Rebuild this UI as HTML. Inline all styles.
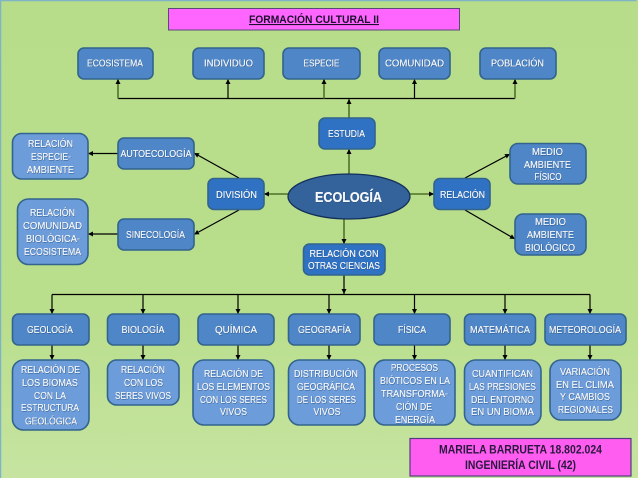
<!DOCTYPE html>
<html><head><meta charset="utf-8">
<style>
html,body{margin:0;padding:0;width:638px;height:479px;overflow:hidden;background:#fff}
svg{display:block;font-family:"Liberation Sans",sans-serif}
.b{fill:#4f86c8;stroke:#32648c;stroke-width:1.6}
.l{fill:#6c9cda;stroke:#32648c;stroke-width:1.6}
.d{fill:#2f72c4;stroke:#32648c;stroke-width:1.6}
.w text{fill:#f6f9fd;font-size:10.5px;text-anchor:middle;stroke:#f6f9fd;stroke-width:.12}
.k{stroke:#000;stroke-width:1.2;fill:none}
.o{stroke:#5c7f36;stroke-width:1.8;fill:none}
</style></head><body>
<svg width="638" height="479" viewBox="0 0 638 479" xmlns="http://www.w3.org/2000/svg">
<defs>
<linearGradient id="bg" x1="0" y1="0" x2="0" y2="1"><stop offset="0" stop-color="#b7dd8b"/><stop offset=".65" stop-color="#b9de8c"/><stop offset="1" stop-color="#c6e4a0"/></linearGradient>
<marker id="a" markerUnits="userSpaceOnUse" markerWidth="6" markerHeight="6" refX="5" refY="2.5" orient="auto"><path d="M0 0L5 2.5L0 5Z" fill="#000"/></marker>
<filter id="s" x="-10%" y="-10%" width="120%" height="120%"><feDropShadow dx=".5" dy=".5" stdDeviation=".35" flood-color="#23466f" flood-opacity=".8"/></filter>
</defs>
<rect width="638" height="478" fill="url(#bg)"/>
<path d="M.5 478V.5H636.5" fill="none" stroke="#7fb3c6" stroke-width="1.5"/>
<rect x="168.500" y="8.500" width="291" height="21.500" fill="#ff66ff" stroke="#5a4a78"/>

<!-- connectors -->
<g class="k">
<path d="M118 98.500H515M52 294.500H590"/>
<path d="M228 98.500V79" marker-end="url(#a)"/>
<path d="M414.500 98.500V79" marker-end="url(#a)"/>
<path d="M239 178L194 153" marker-end="url(#a)"/>
<path d="M239 210L194 234.500" marker-end="url(#a)"/>
<path d="M118 153.500H88" marker-end="url(#a)"/>
<path d="M118 234H88" marker-end="url(#a)"/>
<path d="M465 178L510 154" marker-end="url(#a)"/>
<path d="M465 210L515 239" marker-end="url(#a)"/>
<path d="M344 275V294" marker-end="url(#a)"/>
<path d="M52 294.500V314" marker-end="url(#a)"/><path d="M143 294.500V314" marker-end="url(#a)"/><path d="M238 294.500V314" marker-end="url(#a)"/><path d="M414.500 294.500V314" marker-end="url(#a)"/><path d="M590 294.500V314" marker-end="url(#a)"/><path d="M505 294.500V314" marker-end="url(#a)"/><path d="M329 294.500V314" marker-end="url(#a)"/>
<path d="M52 345V360" marker-end="url(#a)"/><path d="M143 345V360" marker-end="url(#a)"/><path d="M238 345V360" marker-end="url(#a)"/><path d="M329 345V360" marker-end="url(#a)"/><path d="M414.500 345V360" marker-end="url(#a)"/><path d="M505 345V360" marker-end="url(#a)"/><path d="M590 345V360" marker-end="url(#a)"/>
</g>
<g class="o">
<path d="M118 98.500V79" marker-end="url(#a)"/>
<path d="M324 98.500V79" marker-end="url(#a)"/>
<path d="M515 98.500V79" marker-end="url(#a)"/>
<path d="M349 118V99" marker-end="url(#a)"/>
<path d="M349 174V149" marker-end="url(#a)"/>
<path d="M288 194H264" marker-end="url(#a)"/>
<path d="M410 194H434" marker-end="url(#a)"/>
<path d="M344 219V244" marker-end="url(#a)"/>
</g>

<!-- boxes -->
<rect class="b" x="78" y="48" width="75" height="31" rx="6"/>
<rect class="b" x="193" y="48" width="71" height="31" rx="6"/>
<rect class="b" x="283" y="48" width="77" height="31" rx="6"/>
<rect class="b" x="379" y="48" width="71" height="31" rx="6"/>
<rect class="b" x="480" y="48" width="76" height="31" rx="6"/>
<rect class="d" x="319" y="118" width="56" height="31" rx="6"/>
<rect class="b" x="118" y="138" width="76" height="31" rx="6"/>
<rect class="b" x="118" y="219" width="76" height="31" rx="6"/>
<rect class="d" x="208" y="178.500" width="56" height="31" rx="6"/>
<rect class="d" x="434" y="178.500" width="56" height="31" rx="6"/>
<rect class="l" x="12.500" y="133.500" width="75.500" height="45.500" rx="9"/>
<rect class="l" x="17.500" y="199" width="70.500" height="65.500" rx="11"/>
<rect class="b" x="510" y="143.500" width="76" height="40.500" rx="8"/>
<rect class="b" x="515" y="214" width="71" height="41" rx="8"/>
<rect class="d" x="303.500" y="244" width="81.500" height="31" rx="6"/>
<ellipse cx="349" cy="196.500" rx="61" ry="22.500" fill="#34629b" stroke="#14305a" stroke-width="1.3"/>

<rect class="b" x="12.500" y="314" width="76.500" height="31" rx="6"/>
<rect class="b" x="107.500" y="314" width="71.500" height="31" rx="6"/>
<rect class="b" x="198" y="314" width="76" height="31" rx="6"/>
<rect class="b" x="288.500" y="314" width="71.500" height="31" rx="6"/>
<rect class="b" x="374" y="314" width="76" height="31" rx="6"/>
<rect class="b" x="464.500" y="314" width="71" height="31" rx="6"/>
<rect class="b" x="545" y="314" width="81" height="31" rx="6"/>

<rect class="l" x="12.500" y="360" width="76.500" height="70" rx="11"/>
<rect class="l" x="107.500" y="360" width="71.500" height="45" rx="9"/>
<rect class="l" x="193" y="360" width="81" height="65" rx="11"/>
<rect class="l" x="288.500" y="360" width="76.500" height="65" rx="11"/>
<rect class="l" x="374" y="360" width="81" height="65" rx="11"/>
<rect class="l" x="464.500" y="360" width="76.500" height="65" rx="11"/>
<rect class="l" x="550" y="360" width="71" height="60" rx="11"/>
<rect x="410" y="438.500" width="221" height="37.500" fill="#ff5cf0" stroke="#4f3f7f" stroke-width="1.2"/>

<!-- labels -->
<g class="w" filter="url(#s)">
<text x="115" y="66.500" textLength="56" lengthAdjust="spacingAndGlyphs">ECOSISTEMA</text>
<text x="228.500" y="66.500" textLength="49" lengthAdjust="spacingAndGlyphs">INDIVIDUO</text>
<text x="321.500" y="66.500" textLength="36" lengthAdjust="spacingAndGlyphs">ESPECIE</text>
<text x="414.500" y="66.500" textLength="59" lengthAdjust="spacingAndGlyphs">COMUNIDAD</text>
<text x="517.500" y="66.500" textLength="53" lengthAdjust="spacingAndGlyphs">POBLACIÓN</text>
<text x="346.500" y="137" textLength="37" lengthAdjust="spacingAndGlyphs">ESTUDIA</text>
<text x="156" y="157" textLength="71" lengthAdjust="spacingAndGlyphs">AUTOECOLOGÍA</text>
<text x="155.500" y="238" textLength="59" lengthAdjust="spacingAndGlyphs">SINECOLOGÍA</text>
<text x="236.500" y="198" textLength="41" lengthAdjust="spacingAndGlyphs">DIVISIÓN</text>
<text x="462.500" y="198" textLength="45" lengthAdjust="spacingAndGlyphs">RELACIÓN</text>

<text x="50.500" y="147" textLength="45" lengthAdjust="spacingAndGlyphs">RELACIÓN</text>
<text x="51" y="160" textLength="40" lengthAdjust="spacingAndGlyphs">ESPECIE-</text>
<text x="50.500" y="173" textLength="47" lengthAdjust="spacingAndGlyphs">AMBIENTE</text>

<text x="52.500" y="216" textLength="45" lengthAdjust="spacingAndGlyphs">RELACIÓN</text>
<text x="52.500" y="229" textLength="59" lengthAdjust="spacingAndGlyphs">COMUNIDAD</text>
<text x="53" y="242" textLength="54" lengthAdjust="spacingAndGlyphs">BIOLÓGICA-</text>
<text x="52.500" y="255" textLength="57" lengthAdjust="spacingAndGlyphs">ECOSISTEMA</text>

<text x="348.500" y="202" textLength="67" lengthAdjust="spacingAndGlyphs" style="font-size:15px;font-weight:bold">ECOLOGÍA</text>

<text x="547.500" y="155" textLength="31" lengthAdjust="spacingAndGlyphs">MEDIO</text>
<text x="547.500" y="168" textLength="47" lengthAdjust="spacingAndGlyphs">AMBIENTE</text>
<text x="548" y="180" textLength="27" lengthAdjust="spacingAndGlyphs">FÍSICO</text>
<text x="550.500" y="225" textLength="31" lengthAdjust="spacingAndGlyphs">MEDIO</text>
<text x="550.500" y="238" textLength="47" lengthAdjust="spacingAndGlyphs">AMBIENTE</text>
<text x="550" y="251" textLength="50" lengthAdjust="spacingAndGlyphs">BIOLÓGICO</text>

<text x="344" y="257" textLength="69" lengthAdjust="spacingAndGlyphs">RELACIÓN CON</text>
<text x="344" y="269" textLength="72" lengthAdjust="spacingAndGlyphs">OTRAS CIENCIAS</text>

<text x="50" y="333" textLength="46" lengthAdjust="spacingAndGlyphs">GEOLOGÍA</text>
<text x="143" y="333" textLength="43" lengthAdjust="spacingAndGlyphs">BIOLOGÍA</text>
<text x="236" y="333" textLength="42" lengthAdjust="spacingAndGlyphs">QUÍMICA</text>
<text x="324.500" y="333" textLength="53" lengthAdjust="spacingAndGlyphs">GEOGRAFÍA</text>
<text x="412" y="333" textLength="28" lengthAdjust="spacingAndGlyphs">FÍSICA</text>
<text x="500" y="333" textLength="60" lengthAdjust="spacingAndGlyphs">MATEMÁTICA</text>
<text x="585" y="333" textLength="72" lengthAdjust="spacingAndGlyphs">METEOROLOGÍA</text>

<text x="50.500" y="373" textLength="59" lengthAdjust="spacingAndGlyphs">RELACIÓN DE</text>
<text x="50" y="386" textLength="56" lengthAdjust="spacingAndGlyphs">LOS BIOMAS</text>
<text x="50" y="399" textLength="32" lengthAdjust="spacingAndGlyphs">CON LA</text>
<text x="50" y="411" textLength="58" lengthAdjust="spacingAndGlyphs">ESTRUCTURA</text>
<text x="51" y="424.500" textLength="52" lengthAdjust="spacingAndGlyphs">GEOLÓGICA</text>

<text x="143" y="373" textLength="44" lengthAdjust="spacingAndGlyphs">RELACIÓN</text>
<text x="143.500" y="386" textLength="39" lengthAdjust="spacingAndGlyphs">CON LOS</text>
<text x="143" y="399" textLength="56" lengthAdjust="spacingAndGlyphs">SERES VIVOS</text>

<text x="233.500" y="377" textLength="59" lengthAdjust="spacingAndGlyphs">RELACIÓN DE</text>
<text x="233.500" y="390" textLength="73" lengthAdjust="spacingAndGlyphs">LOS ELEMENTOS</text>
<text x="233.500" y="403" textLength="67" lengthAdjust="spacingAndGlyphs">CON LOS SERES</text>
<text x="233.500" y="415" textLength="27" lengthAdjust="spacingAndGlyphs">VIVOS</text>

<text x="326" y="377" textLength="64" lengthAdjust="spacingAndGlyphs">DISTRIBUCIÓN</text>
<text x="326" y="390" textLength="58" lengthAdjust="spacingAndGlyphs">GEOGRÁFICA</text>
<text x="326.500" y="403" textLength="59" lengthAdjust="spacingAndGlyphs">DE LOS SERES</text>
<text x="327" y="415" textLength="27" lengthAdjust="spacingAndGlyphs">VIVOS</text>

<text x="414.500" y="371" textLength="47" lengthAdjust="spacingAndGlyphs">PROCESOS</text>
<text x="415" y="384" textLength="70" lengthAdjust="spacingAndGlyphs">BIÓTICOS EN LA</text>
<text x="414.500" y="397" textLength="67" lengthAdjust="spacingAndGlyphs">TRANSFORMA-</text>
<text x="414" y="410" textLength="36" lengthAdjust="spacingAndGlyphs">CIÓN DE</text>
<text x="415" y="423" textLength="40" lengthAdjust="spacingAndGlyphs">ENERGÍA</text>

<text x="502.500" y="377" textLength="61" lengthAdjust="spacingAndGlyphs">CUANTIFICAN</text>
<text x="502.500" y="390" textLength="67" lengthAdjust="spacingAndGlyphs">LAS PRESIONES</text>
<text x="502.500" y="403" textLength="63" lengthAdjust="spacingAndGlyphs">DEL ENTORNO</text>
<text x="502.500" y="415" textLength="63" lengthAdjust="spacingAndGlyphs">EN UN BIOMA</text>

<text x="585" y="375" textLength="50" lengthAdjust="spacingAndGlyphs">VARIACIÓN</text>
<text x="585" y="388" textLength="58" lengthAdjust="spacingAndGlyphs">EN EL CLIMA</text>
<text x="585" y="400" textLength="50" lengthAdjust="spacingAndGlyphs">Y CAMBIOS</text>
<text x="585.500" y="413" textLength="55" lengthAdjust="spacingAndGlyphs">REGIONALES</text>
</g>
<text x="314" y="23" text-anchor="middle" textLength="130" lengthAdjust="spacingAndGlyphs" text-decoration="underline" font-size="11" font-weight="bold" fill="#1c0f2e">FORMACIÓN CULTURAL II</text>
<text x="520.500" y="453.500" text-anchor="middle" textLength="163" lengthAdjust="spacingAndGlyphs" font-size="12" font-weight="bold" fill="#2a1840">MARIELA BARRUETA 18.802.024</text>
<text x="520.500" y="469" text-anchor="middle" textLength="111" lengthAdjust="spacingAndGlyphs" font-size="12" font-weight="bold" fill="#2a1840">INGENIERÍA CIVIL (42)</text>
</svg>
</body></html>
